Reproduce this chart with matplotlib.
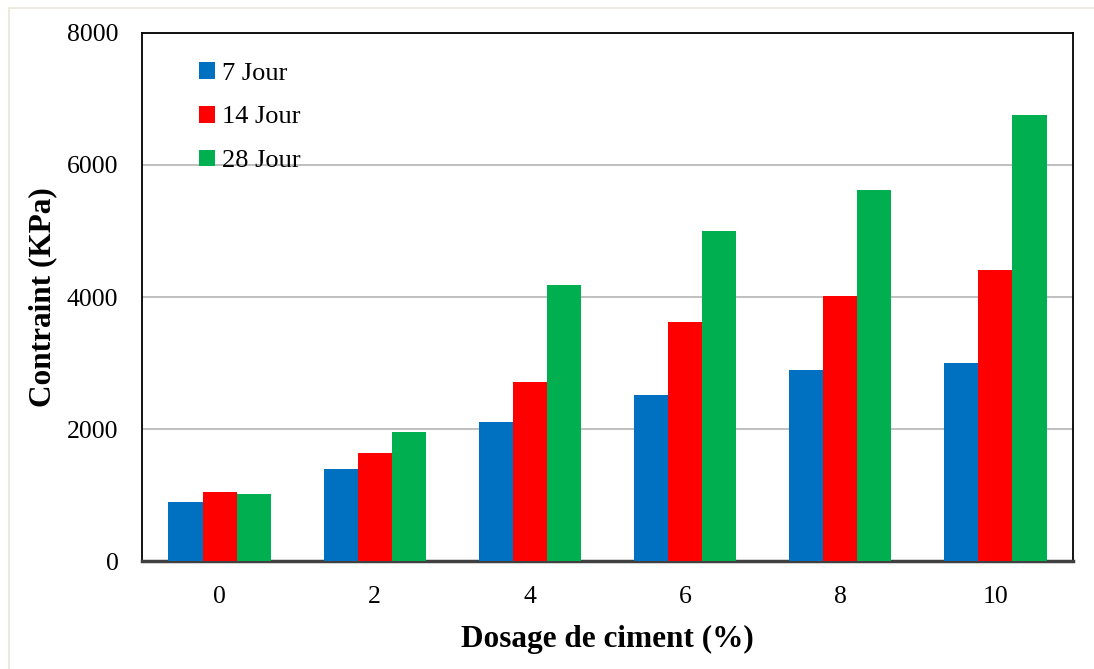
import matplotlib.pyplot as plt
import numpy as np

# compressive strength vs cement dosage
dosage = ['0', '2', '4', '6', '8', '10']
jour_7 = [890, 1390, 2110, 2510, 2900, 3000]
jour_14 = [1040, 1630, 2710, 3620, 4020, 4410]
jour_28 = [1020, 1950, 4180, 5000, 5620, 6760]

plt.rcParams['font.family'] = ['Liberation Serif', 'DejaVu Serif']

x = np.arange(len(dosage))
width = 0.22

fig = plt.figure(figsize=(10.94, 6.69), dpi=100)
ax = fig.add_axes([0.1298, 0.1614, 0.851, 0.7893])

ax.bar(x - width, jour_7, width=width, color='#0070C0', label='7 Jour', zorder=3)
ax.bar(x, jour_14, width=width, color='#FF0000', label='14 Jour', zorder=3)
ax.bar(x + width, jour_28, width=width, color='#00B050', label='28 Jour', zorder=3)

ax.set_xlim(-0.5, len(dosage) - 0.5)
ax.set_ylim(0, 8000)
ax.set_yticks(np.arange(0, 8001, 2000))
ax.set_xticks(x, dosage)
ax.grid(axis='y', color='#b4b4b4', linewidth=1.2, zorder=0)
ax.tick_params(axis='both', length=0, labelsize=18.5)
ax.tick_params(axis='y', pad=17)
ax.tick_params(axis='x', pad=18)

for side in ['top', 'right', 'left']:
    ax.spines[side].set_color('black')
    ax.spines[side].set_linewidth(1.3)
ax.spines['bottom'].set_color('#404040')
ax.spines['bottom'].set_linewidth(2.5)

ax.set_xlabel('Dosage de ciment (%)', fontsize=22.5, fontweight='bold', labelpad=12)
ax.set_ylabel('Contraint (KPa)', fontsize=22.5, fontweight='bold', labelpad=7)

ax.legend(loc='upper left', bbox_to_anchor=(0.05, 0.965), frameon=False, fontsize=19,
          handlelength=0.6, handleheight=0.6, handletextpad=0.25, labelspacing=0.8,
          borderaxespad=0)

# light outer chart border
fig.add_artist(plt.Line2D([9 / 1094, 9 / 1094], [0, 1 - 8 / 669], color='#ECE9DF',
                          linewidth=1.5, transform=fig.transFigure))
fig.add_artist(plt.Line2D([9 / 1094, 1], [1 - 8 / 669, 1 - 8 / 669], color='#ECE9DF',
                          linewidth=1.5, transform=fig.transFigure))

plt.savefig('out.png', dpi=100)
